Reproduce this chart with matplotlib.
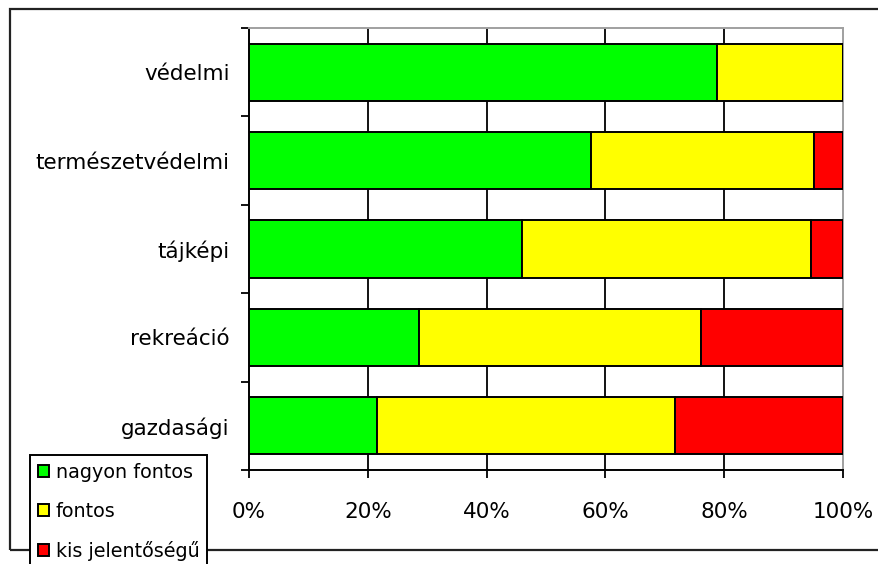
import matplotlib
matplotlib.use("Agg")
import matplotlib.pyplot as plt
import matplotlib.patches as mpatches
import numpy as np

categories = ['védelmi', 'természetvédelmi', 'tájképi', 'rekreáció', 'gazdasági']
nagyon_fontos = [78.8, 57.6, 45.9, 28.6, 21.6]
fontos = [21.2, 37.5, 48.7, 47.5, 50.1]
kis_jelentosegu = [0.0, 4.9, 5.4, 23.9, 28.3]
series_names = ['nagyon fontos', 'fontos', 'kis jelentőségű']
series_colors = ['#00FF00', '#FFFF00', '#FF0000']
xticks = [0, 20, 40, 60, 80, 100]
xticklabels = ['0%', '20%', '40%', '60%', '80%', '100%']

plt.rcParams['font.family'] = ['DejaVu Sans']

W, H = 879, 564
fig = plt.figure(figsize=(W / 100, H / 100), dpi=100)

# outer frame
frame = mpatches.Rectangle((10 / W, 1 - 550 / H), (895 - 10) / W, (550 - 9) / H,
                           transform=fig.transFigure, fill=False,
                           edgecolor='#222222', linewidth=1.6, zorder=0)
fig.patches.append(frame)

ax = fig.add_axes([249 / W, 1 - 470 / H, (843 - 249) / W, (470 - 28) / H])

y = np.arange(len(categories))
data = [nagyon_fontos, fontos, kis_jelentosegu]
left = np.zeros(len(categories))
handles = []
for vals, name, col in zip(data, series_names, series_colors):
    vals = np.array(vals)
    b = ax.barh(y, vals, left=left, height=0.645, color=col,
                edgecolor='black', linewidth=1.4, label=name, zorder=3)
    handles.append(b)
    left = left + vals

ax.set_xlim(0, 100)
ax.set_ylim(len(categories) - 0.5, -0.5)

for xv in xticks[1:-1]:
    ax.axvline(xv, color='black', linewidth=1.3, zorder=1)

ax.set_xticks(xticks)
ax.set_xticklabels(xticklabels)
ax.tick_params(axis='x', direction='out', length=6, width=1.3, pad=17,
               labelsize=15.5, colors='black')

ax.set_yticks(np.arange(len(categories) + 1) - 0.5)
ax.set_yticklabels([''] * (len(categories) + 1))
ax.tick_params(axis='y', which='major', direction='out', length=6, width=1.3)
ax.set_yticks(y, minor=True)
ax.set_yticklabels(categories, minor=True)
ax.tick_params(axis='y', which='minor', length=0, pad=14, labelsize=15.5)

ax.spines['left'].set_color('black')
ax.spines['left'].set_linewidth(1.4)
ax.spines['bottom'].set_color('black')
ax.spines['bottom'].set_linewidth(1.4)
ax.spines['top'].set_color('#a0a0a0')
ax.spines['top'].set_linewidth(1.4)
ax.spines['right'].set_color('#a0a0a0')
ax.spines['right'].set_linewidth(1.4)

leg = fig.legend(handles=handles, labels=series_names, loc='upper left',
                 bbox_to_anchor=(30 / W, 1 - 455 / H), fontsize=13.8,
                 frameon=True, fancybox=False, shadow=False,
                 edgecolor='black', framealpha=1, borderpad=0.4,
                 labelspacing=1.05, handlelength=0.6, handleheight=0.6,
                 handletextpad=0.35, borderaxespad=0)
leg.get_frame().set_linewidth(1.4)
leg.set_zorder(10)

fig.savefig('out.png', dpi=100)
